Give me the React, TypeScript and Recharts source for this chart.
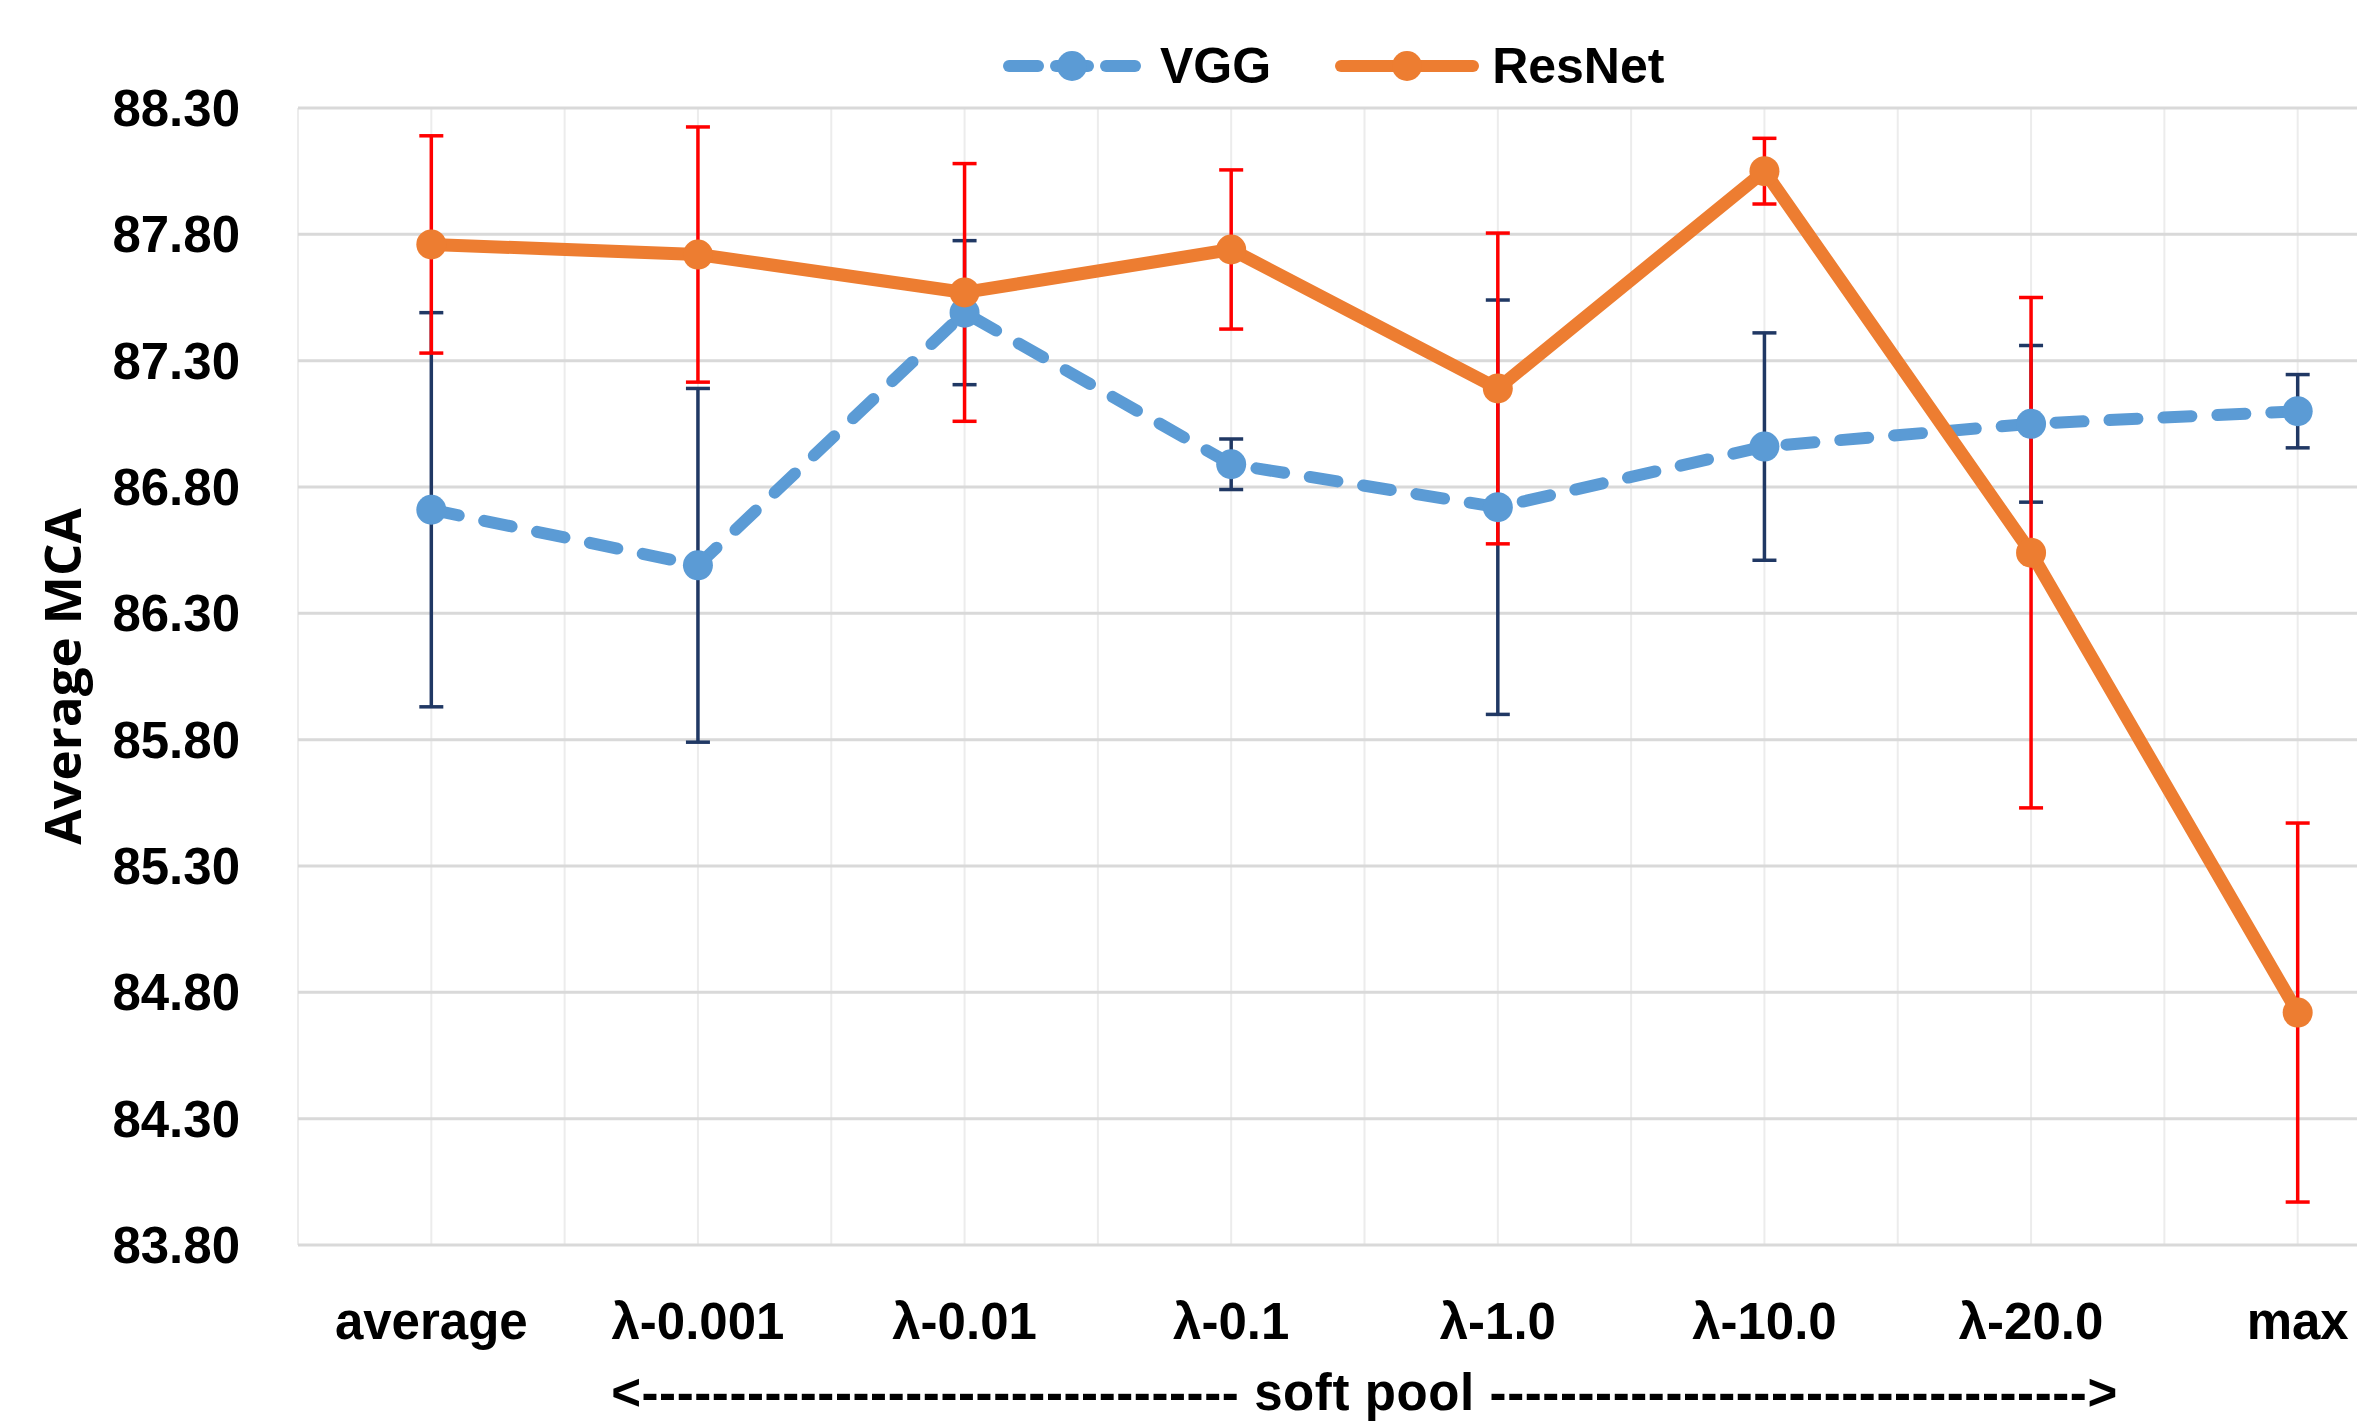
import React from 'react';
import { LineChart, Line, XAxis, YAxis, CartesianGrid, ErrorBar, Legend } from 'recharts';

const categories = ['average', 'λ-0.001', 'λ-0.01', 'λ-0.1', 'λ-1.0', 'λ-10.0', 'λ-20.0', 'max'];
const vggValues = [86.71, 86.49, 87.49, 86.89, 86.72, 86.96, 87.05, 87.1];
const vggErrors = [0.78, 0.7, 0.285, 0.1, 0.82, 0.45, 0.31, 0.145];
const resnetValues = [87.76, 87.72, 87.57, 87.74, 87.19, 88.05, 86.54, 84.72];
const resnetErrors = [0.43, 0.505, 0.51, 0.315, 0.615, 0.13, 1.01, 0.75];
const yTickValues = [83.8, 84.3, 84.8, 85.3, 85.8, 86.3, 86.8, 87.3, 87.8, 88.3];
const xCaption = '<---------------------------------- soft pool ---------------------------------->';
const yCaption = 'Average MCA';

const data = categories.map((name, i) => ({
  x: i + 0.5,
  name,
  vgg: vggValues[i],
  vggErr: vggErrors[i],
  resnet: resnetValues[i],
  resnetErr: resnetErrors[i],
}));

const gridTicks = Array.from({ length: categories.length * 2 + 1 }, (_, i) => i / 2);

const FONT = "'Liberation Sans', Arial, sans-serif";
const LABEL_FONT = "'Open Sans', 'DejaVu Sans', sans-serif";
const BLUE = '#5B9BD5';
const ORANGE = '#ED7D31';

const renderLegend = () => (
  <div
    style={{
      height: 84,
      display: 'flex',
      alignItems: 'center',
      paddingLeft: 1002,
      fontFamily: FONT,
      fontWeight: 700,
      fontSize: 50,
      lineHeight: 1,
      color: '#000',
      boxSizing: 'border-box',
    }}
  >
    <svg width={140} height={32}>
      <line x1={7} y1={16} x2={36} y2={16} stroke={BLUE} strokeWidth={12} strokeLinecap="round" />
      <line x1={54} y1={16} x2={86} y2={16} stroke={BLUE} strokeWidth={12} strokeLinecap="round" />
      <circle cx={70} cy={16} r={15} fill={BLUE} />
      <line x1={104} y1={16} x2={133} y2={16} stroke={BLUE} strokeWidth={12} strokeLinecap="round" />
    </svg>
    <span style={{ marginLeft: 18 }}>VGG</span>
    <svg width={146} height={32} style={{ marginLeft: 63 }}>
      <line x1={7} y1={16} x2={139} y2={16} stroke={ORANGE} strokeWidth={12} strokeLinecap="round" />
      <circle cx={73} cy={16} r={15} fill={ORANGE} />
    </svg>
    <span style={{ marginLeft: 12 }}>ResNet</span>
  </div>
);

export default function App() {
  const tickStyle = { fontSize: 51, fontWeight: 700, fontFamily: FONT, fill: '#000' };
  return (
    <div style={{ position: 'absolute', left: 0, top: 0, width: 2357, height: 1423, overflow: 'hidden', background: '#fff' }}>
      <LineChart width={2431} height={1423} data={data} margin={{ top: 24, right: 0, bottom: 0, left: 20 }}>
        <CartesianGrid horizontal={false} stroke="#ececec" strokeWidth={2} />
        <CartesianGrid vertical={false} stroke="#d9d9d9" strokeWidth={3} />
        <XAxis
          type="number"
          dataKey="x"
          domain={[0, categories.length]}
          ticks={gridTicks}
          interval={0}
          tickFormatter={(v: number) => (v % 1 === 0.5 ? categories[Math.floor(v)] : '')}
          axisLine={false}
          tickLine={false}
          tickSize={0}
          tickMargin={58}
          height={178}
          tick={tickStyle}
          label={{
            value: xCaption,
            position: 'insideBottom',
            offset: 13,
            style: { fontSize: 51, fontWeight: 700, fontFamily: FONT, fill: '#000', letterSpacing: 0.6 },
          }}
        />
        <YAxis
          type="number"
          domain={[83.8, 88.3]}
          ticks={yTickValues}
          interval={0}
          tickFormatter={(v: number) => v.toFixed(2)}
          axisLine={false}
          tickLine={false}
          tickSize={0}
          tickMargin={58}
          width={278}
          tick={tickStyle}
          label={{
            value: yCaption,
            angle: -90,
            position: 'insideLeft',
            offset: 43,
            style: { fontSize: 51, fontWeight: 700, fontFamily: LABEL_FONT, fill: '#000', textAnchor: 'middle' },
          }}
        />
        <Legend verticalAlign="top" align="left" content={renderLegend} wrapperStyle={{ left: 0, width: 2431 }} />
        <Line
          name="VGG"
          dataKey="vgg"
          stroke={BLUE}
          strokeWidth={12}
          strokeDasharray="28 26"
          strokeLinecap="round"
          dot={{ r: 15, fill: BLUE, stroke: 'none', strokeDasharray: '0' }}
          activeDot={false}
          isAnimationActive={false}
        >
          <ErrorBar dataKey="vggErr" direction="y" width={12} stroke="#203864" strokeWidth={3.5} isAnimationActive={false} />
        </Line>
        <Line
          name="ResNet"
          dataKey="resnet"
          stroke={ORANGE}
          strokeWidth={13}
          strokeLinejoin="round"
          dot={{ r: 15, fill: ORANGE, stroke: 'none' }}
          activeDot={false}
          isAnimationActive={false}
        >
          <ErrorBar dataKey="resnetErr" direction="y" width={12} stroke="#FF0000" strokeWidth={3.5} isAnimationActive={false} />
        </Line>
      </LineChart>
    </div>
  );
}
